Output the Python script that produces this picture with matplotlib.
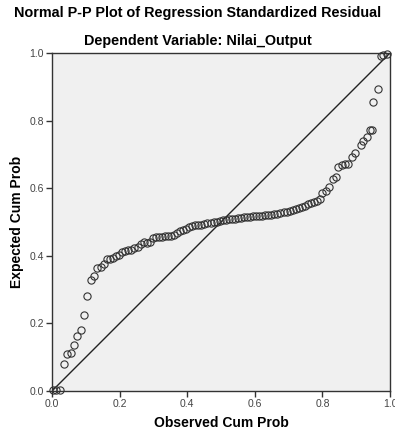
import matplotlib
matplotlib.use("Agg")
import matplotlib.pyplot as plt

plt.rcParams["font.family"] = ["Liberation Sans", "DejaVu Sans"]

# observed cum prob (x) and expected cum prob (y)
obs = [0.003, 0.012, 0.024,
       0.036, 0.045, 0.055, 0.065, 0.075, 0.085, 0.095, 0.105, 0.114, 0.124, 0.134, 0.144, 0.154,
       0.163, 0.172, 0.181, 0.190, 0.199, 0.208, 0.217, 0.226, 0.235, 0.244, 0.253, 0.262, 0.271,
       0.280, 0.289, 0.298, 0.307, 0.316, 0.325, 0.334, 0.343, 0.352, 0.361, 0.370, 0.379, 0.388,
       0.397, 0.406, 0.415, 0.424, 0.433, 0.442, 0.451, 0.460, 0.469, 0.478, 0.487, 0.496,
       0.505, 0.514, 0.523, 0.532, 0.541, 0.550, 0.559, 0.568, 0.577, 0.586, 0.595, 0.604, 0.613,
       0.622, 0.631, 0.640, 0.649, 0.658, 0.667, 0.676, 0.685, 0.694, 0.703, 0.712, 0.721, 0.730,
       0.739, 0.748, 0.757, 0.766, 0.775, 0.784, 0.792,
       0.798, 0.810, 0.820, 0.830, 0.839, 0.847, 0.857, 0.867, 0.877, 0.887, 0.896, 0.913, 0.921,
       0.931, 0.940, 0.946, 0.951, 0.964, 0.972, 0.980, 0.990]
exp = [0.002, 0.003, 0.004,
       0.080, 0.109, 0.113, 0.136, 0.164, 0.180, 0.226, 0.282, 0.328, 0.340, 0.363, 0.367, 0.375,
       0.390, 0.390, 0.393, 0.398, 0.403, 0.410, 0.414, 0.416, 0.418, 0.422, 0.427, 0.436, 0.440,
       0.437, 0.440, 0.452, 0.456, 0.457, 0.457, 0.458, 0.459, 0.460, 0.462, 0.466, 0.474, 0.477,
       0.480, 0.485, 0.488, 0.490, 0.491, 0.492, 0.494, 0.496, 0.498, 0.500, 0.501, 0.503,
       0.505, 0.506, 0.508, 0.509, 0.510, 0.512, 0.513, 0.514, 0.515, 0.516, 0.517, 0.518, 0.518,
       0.519, 0.520, 0.521, 0.522, 0.523, 0.525, 0.528, 0.530, 0.531, 0.533, 0.536, 0.539, 0.541,
       0.543, 0.548, 0.553, 0.556, 0.558, 0.562, 0.567,
       0.585, 0.593, 0.604, 0.626, 0.634, 0.662, 0.669, 0.672, 0.672, 0.691, 0.703, 0.728, 0.740,
       0.752, 0.772, 0.772, 0.854, 0.893, 0.992, 0.995, 0.997]
ticks = [0.0, 0.2, 0.4, 0.6, 0.8, 1.0]
tick_labels = ["0.0", "0.2", "0.4", "0.6", "0.8", "1.0"]

fig = plt.figure(figsize=(3.95, 4.34), dpi=100)
ax = fig.add_axes([52 / 395, 43 / 434, 338 / 395, 338 / 434])
ax.set_facecolor("#f0f0f0")

ax.plot([0, 1], [0, 1], color="#222222", lw=1.0, zorder=2)
ax.plot(obs, exp, "o", mfc="none", mec="#333333", ms=5.2, mew=0.8, zorder=3, clip_on=False)

ax.set_xlim(0, 1)
ax.set_ylim(0, 1)
ax.set_xticks(ticks)
ax.set_xticklabels(tick_labels)
ax.set_yticks(ticks)
ax.set_yticklabels(tick_labels)
ax.tick_params(length=4, width=1, color="#333333", labelsize=7.5, labelcolor="#444444", pad=2)
for s in ax.spines.values():
    s.set_color("#333333")
    s.set_linewidth(1.0)

ax.set_xlabel("Observed Cum Prob", fontsize=10, fontweight="bold")
ax.set_ylabel("Expected Cum Prob", fontsize=10, fontweight="bold")
ax.xaxis.label.set_va("center")
ax.yaxis.label.set_va("center")
ax.xaxis.set_label_coords(0.5, (391 - 423) / 338)
ax.yaxis.set_label_coords((17 - 52) / 338, 0.5)

fig.text(0.5, 1 - 13 / 434, "Normal P-P Plot of Regression Standardized Residual",
         ha="center", va="center", fontsize=10.4, fontweight="bold")
fig.text(0.5, 1 - 41 / 434, "Dependent Variable: Nilai_Output",
         ha="center", va="center", fontsize=10.4, fontweight="bold")

fig.savefig("out.png", dpi=100)
